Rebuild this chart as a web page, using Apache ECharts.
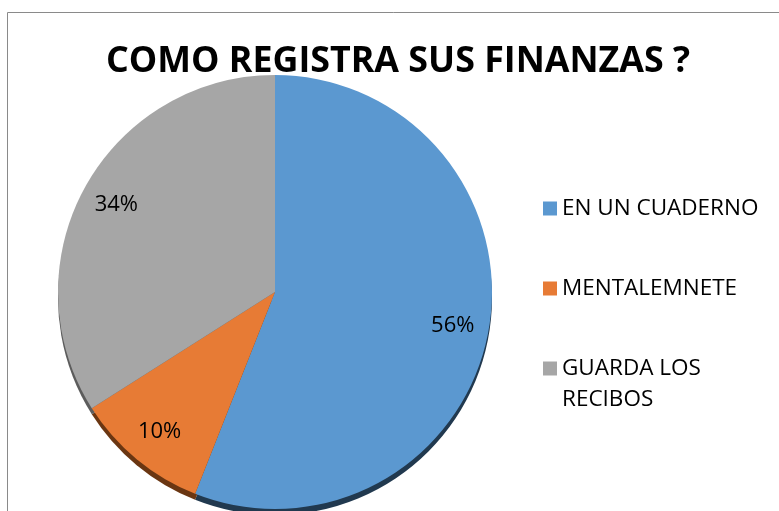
<!DOCTYPE html>
<html>
<head>
<meta charset="utf-8">
<script src="https://cdn.jsdelivr.net/npm/echarts@6/dist/echarts.min.js"></script>
<style>
  html, body { margin: 0; padding: 0; background: #ffffff; }
  #chart { width: 779px; height: 511px; }
</style>
</head>
<body>
<div id="chart"></div>
<script>
// Survey answers: how respondents keep track of their finances (percent)
const categories = ['EN UN CUADERNO', 'MENTALEMNETE', 'GUARDA LOS RECIBOS'];
const shares = [56, 10, 34];
const sliceColors = ['#5b98d0', '#e77b35', '#a6a6a6'];
const rimColors = ['#21394f', '#6a3612', '#5c5c5c'];
const titleText = 'COMO REGISTRA SUS FINANZAS ?';

const FONT = '"Open Sans", "Liberation Sans", sans-serif';
const center = [275, 292];
const radius = 217;

const slices = categories.map((name, i) => ({
  name: name,
  value: shares[i],
  itemStyle: { color: sliceColors[i] }
}));
const rim = categories.map((name, i) => ({
  name: name,
  value: shares[i],
  itemStyle: { color: rimColors[i] }
}));
const labelRing = categories.map((name, i) => ({ name: name, value: shares[i] }));

// one legend block per category so each block can sit at its own height;
// the wrapped entry gets an empty leading line so its first line stays level with the swatch
const legendTops = [193, 273, 322];
const legends = categories.map((name, i) => ({
  data: [{ name: name, itemStyle: { color: sliceColors[i] } }],
  orient: 'vertical',
  left: 543,
  top: legendTops[i],
  padding: 0,
  icon: 'rect',
  itemWidth: 14,
  itemHeight: 14,
  selectedMode: false,
  formatter: i === 2 ? (n) => '\n' + n : (n) => n,
  textStyle: {
    fontFamily: FONT,
    fontSize: 22.5,
    color: '#000000',
    lineHeight: 31,
    width: 205,
    overflow: 'break'
  }
}));

const chart = echarts.init(document.getElementById('chart'), null, { renderer: 'canvas' });
chart.setOption({
  backgroundColor: '#ffffff',
  animation: false,
  title: {
    text: titleText,
    left: 106,
    top: 42,
    padding: 0,
    textStyle: {
      fontFamily: FONT,
      fontWeight: 'bold',
      fontSize: 35.8,
      lineHeight: 40,
      color: '#000000'
    }
  },
  legend: legends,
  graphic: [{
    type: 'polyline',
    shape: { points: [[7.5, 520], [7.5, 12.5], [790, 12.5]] },
    style: { stroke: '#8a8a8a', lineWidth: 1, fill: null },
    silent: true,
    z: 0
  }],
  series: [
    {
      type: 'pie',
      name: 'main',
      center: center,
      radius: [0, radius],
      startAngle: 90,
      clockwise: true,
      z: 3,
      silent: true,
      label: { show: false },
      labelLine: { show: false },
      itemStyle: { borderWidth: 0 },
      data: slices
    },
    {
      type: 'pie',
      name: 'rim',
      center: [center[0], center[1] + 6],
      radius: [0, radius],
      startAngle: 90,
      clockwise: true,
      z: 1,
      silent: true,
      label: { show: false },
      labelLine: { show: false },
      itemStyle: { borderWidth: 0 },
      data: rim
    },
    {
      type: 'pie',
      name: 'labels',
      center: center,
      radius: [144, 212],
      startAngle: 90,
      clockwise: true,
      z: 4,
      silent: true,
      itemStyle: { color: 'rgba(0,0,0,0)', borderWidth: 0 },
      label: {
        show: true,
        position: 'inside',
        formatter: '{c}%',
        fontFamily: FONT,
        fontSize: 22,
        color: '#000000'
      },
      labelLine: { show: false },
      data: labelRing
    }
  ]
});
</script>
</body>
</html>
